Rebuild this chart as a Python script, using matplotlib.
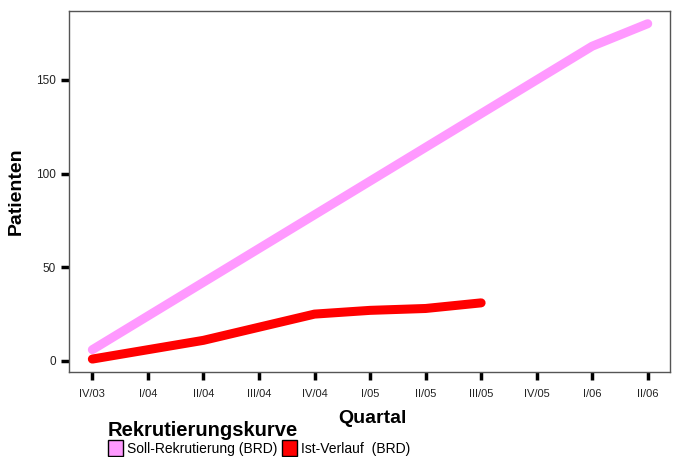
import matplotlib
matplotlib.use("Agg")
import matplotlib.pyplot as plt
from matplotlib.patches import Patch

plt.rcParams['font.family'] = ['Liberation Sans', 'DejaVu Sans']

quartale = ["IV/03", "I/04", "II/04", "III/04", "IV/04", "I/05", "II/05",
            "III/05", "IV/05", "I/06", "II/06"]
soll = [6, 24, 42, 60, 78, 96, 114, 132, 150, 168, 180]
ist = [1, 6, 11, 18, 25, 27, 28, 31]

pink = "#ff99ff"
red = "#ff0000"

fig = plt.figure(figsize=(6.74, 4.57), dpi=100)
ax = fig.add_axes([0.1024, 0.186, 0.8916, 0.790])

x = range(len(quartale))
ax.plot(x, soll, color=pink, lw=6.5, solid_capstyle="round", solid_joinstyle="round")
ax.plot(range(len(ist)), ist, color=red, lw=6.5, solid_capstyle="round", solid_joinstyle="round")

ax.set_xlim(-0.42, 10.4)
ax.set_ylim(-5.9, 186.8)
ax.set_xticks(list(x))
ax.set_xticklabels(quartale, fontsize=8, color="#222222")
ax.set_yticks([0, 50, 100, 150])
ax.set_yticklabels(["0", "50", "100", "150"], fontsize=8.5, color="#222222")
ax.tick_params(axis="both", direction="out", length=6, width=2.5, color="black")
ax.tick_params(axis="x", pad=6)
for s in ax.spines.values():
    s.set_color("#555555")
    s.set_linewidth(1)

ax.set_ylabel("Patienten", fontsize=14, fontweight="bold", labelpad=8)
fig.text(0.552, 0.085, "Quartal", fontsize=14, fontweight="bold", ha="center", va="center")

handles = [Patch(facecolor=pink, edgecolor="black", lw=1, label="Soll-Rekrutierung (BRD)"),
           Patch(facecolor=red, edgecolor="black", lw=1, label="Ist-Verlauf  (BRD)")]
leg = fig.legend(handles=handles, loc="upper left", bbox_to_anchor=(0.16, 0.078),
                 ncol=2, frameon=False, fontsize=10, title="Rekrutierungskurve",
                 title_fontproperties={"size": 14.5, "weight": "bold"},
                 handlelength=1.1, handleheight=1.4, handletextpad=0.3,
                 columnspacing=0.3, borderpad=0, borderaxespad=0, labelspacing=0)
leg._legend_box.align = "left"

fig.savefig("out.png", dpi=100)
